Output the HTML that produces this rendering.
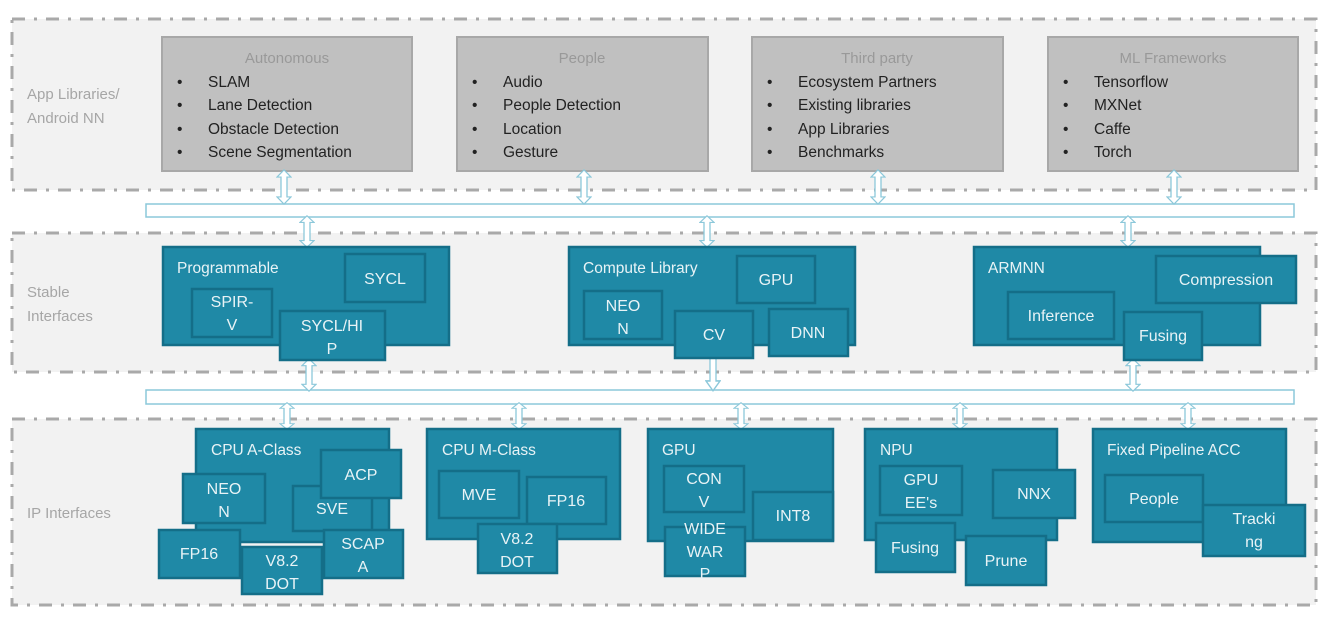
<!DOCTYPE html>
<html><head><meta charset="utf-8"><style>
html,body{margin:0;padding:0;background:#fff;}
svg text{font-family:"Liberation Sans",sans-serif;}
</style></head><body>
<svg width="1334" height="628" xmlns="http://www.w3.org/2000/svg">
<defs>
<symbol id="arr" viewBox="0 0 16 40" preserveAspectRatio="none">
<path d="M8 1 L15 9 L11 9 L11 31 L15 31 L8 39 L1 31 L5 31 L5 9 L1 9 Z" fill="#fff" stroke="#8cc8da" stroke-width="1.3"/>
</symbol>
</defs>
<g fill="#f2f2f2" stroke="#a9a9a9" stroke-width="3" stroke-dasharray="13 9 3 9">
<rect x="12" y="19" width="1304" height="171"/>
<rect x="12" y="233" width="1304" height="139"/>
<rect x="12" y="419" width="1304" height="186"/>
</g>
<g fill="#a6a6a6" font-size="15">
<text x="27" y="99">App Libraries/</text>
<text x="27" y="123">Android NN</text>
<text x="27" y="297">Stable</text>
<text x="27" y="321">Interfaces</text>
<text x="27" y="518">IP Interfaces</text>
</g>
<g fill="#c0c0c0" stroke="#a8a8a8" stroke-width="2">
<rect x="162" y="37" width="250" height="134"/>
<rect x="457" y="37" width="251" height="134"/>
<rect x="752" y="37" width="251" height="134"/>
<rect x="1048" y="37" width="250" height="134"/>
</g>
<g font-size="15" fill="#999" text-anchor="middle">
<text x="287" y="63">Autonomous</text><text x="582" y="63">People</text><text x="877" y="63">Third party</text><text x="1173" y="63">ML Frameworks</text>
</g>
<g font-size="15.5" fill="#222">
<text x="177" y="87">•</text><text x="208" y="87">SLAM</text>
<text x="177" y="110">•</text><text x="208" y="110">Lane Detection</text>
<text x="177" y="134">•</text><text x="208" y="134">Obstacle Detection</text>
<text x="177" y="157">•</text><text x="208" y="157">Scene Segmentation</text>
<text x="472" y="87">•</text><text x="503" y="87">Audio</text>
<text x="472" y="110">•</text><text x="503" y="110">People Detection</text>
<text x="472" y="134">•</text><text x="503" y="134">Location</text>
<text x="472" y="157">•</text><text x="503" y="157">Gesture</text>
<text x="767" y="87">•</text><text x="798" y="87">Ecosystem Partners</text>
<text x="767" y="110">•</text><text x="798" y="110">Existing libraries</text>
<text x="767" y="134">•</text><text x="798" y="134">App Libraries</text>
<text x="767" y="157">•</text><text x="798" y="157">Benchmarks</text>
<text x="1063" y="87">•</text><text x="1094" y="87">Tensorflow</text>
<text x="1063" y="110">•</text><text x="1094" y="110">MXNet</text>
<text x="1063" y="134">•</text><text x="1094" y="134">Caffe</text>
<text x="1063" y="157">•</text><text x="1094" y="157">Torch</text>
</g>
<g fill="#fff" stroke="#8cc8da" stroke-width="1.5">
<rect x="146" y="204" width="1148" height="13"/>
<rect x="146" y="390" width="1148" height="14"/>
</g>
<use href="#arr" x="276" y="169" width="16" height="36"/>
<use href="#arr" x="576" y="169" width="16" height="36"/>
<use href="#arr" x="870" y="169" width="16" height="36"/>
<use href="#arr" x="1166" y="169" width="16" height="36"/>
<use href="#arr" x="299" y="215" width="16" height="33"/>
<use href="#arr" x="699" y="215" width="16" height="33"/>
<use href="#arr" x="1120" y="215" width="16" height="33"/>
<use href="#arr" x="301" y="358" width="16" height="34"/>
<use href="#arr" x="705" y="343" width="16" height="49"/>
<use href="#arr" x="1125" y="358" width="16" height="34"/>
<use href="#arr" x="279" y="402" width="16" height="28"/>
<use href="#arr" x="511" y="402" width="16" height="28"/>
<use href="#arr" x="733" y="402" width="16" height="28"/>
<use href="#arr" x="952" y="402" width="16" height="28"/>
<use href="#arr" x="1180" y="402" width="16" height="28"/>
<g fill="#1f89a6" stroke="#146e88" stroke-width="2.5">
<rect x="163" y="247" width="286" height="98"/>
<rect x="345" y="254" width="80" height="48"/>
<rect x="192" y="289" width="80" height="48"/>
<rect x="280" y="311" width="105" height="49"/>
<rect x="569" y="247" width="286" height="98"/>
<rect x="737" y="256" width="78" height="47"/>
<rect x="584" y="291" width="78" height="48"/>
<rect x="675" y="311" width="78" height="47"/>
<rect x="769" y="309" width="79" height="47"/>
<rect x="974" y="247" width="286" height="98"/>
<rect x="1156" y="256" width="140" height="47"/>
<rect x="1008" y="292" width="106" height="47"/>
<rect x="1124" y="312" width="78" height="48"/>
<rect x="196" y="429" width="193" height="113"/>
<rect x="183" y="474" width="82" height="49"/>
<rect x="293" y="486" width="79" height="45"/>
<rect x="321" y="450" width="80" height="48"/>
<rect x="159" y="530" width="81" height="48"/>
<rect x="242" y="547" width="80" height="47"/>
<rect x="324" y="530" width="79" height="48"/>
<rect x="427" y="429" width="193" height="110"/>
<rect x="439" y="471" width="80" height="47"/>
<rect x="527" y="477" width="79" height="47"/>
<rect x="478" y="524" width="79" height="49"/>
<rect x="648" y="429" width="185" height="112"/>
<rect x="664" y="466" width="80" height="46"/>
<rect x="753" y="492" width="80" height="48"/>
<rect x="665" y="527" width="80" height="49"/>
<rect x="865" y="429" width="192" height="111"/>
<rect x="880" y="466" width="82" height="49"/>
<rect x="993" y="470" width="82" height="48"/>
<rect x="876" y="523" width="79" height="49"/>
<rect x="966" y="536" width="80" height="49"/>
<rect x="1093" y="429" width="193" height="113"/>
<rect x="1105" y="475" width="98" height="47"/>
<rect x="1203" y="505" width="102" height="51"/>
</g>
<g fill="#e8f3f6" font-size="15.5">
<text x="177" y="273">Programmable</text>
<text x="583" y="273">Compute Library</text>
<text x="988" y="273">ARMNN</text>
<text x="211" y="455">CPU A-Class</text>
<text x="442" y="455">CPU M-Class</text>
<text x="662" y="455">GPU</text>
<text x="880" y="455">NPU</text>
<text x="1107" y="455">Fixed Pipeline ACC</text>
</g>
<g fill="#e8f3f6" font-size="16" text-anchor="middle">
<text x="385" y="284">SYCL</text>
<text x="232" y="307">SPIR-</text><text x="232" y="330">V</text>
<text x="332" y="331">SYCL/HI</text><text x="332" y="354">P</text>
<text x="776" y="285">GPU</text>
<text x="623" y="311">NEO</text><text x="623" y="334">N</text>
<text x="714" y="340">CV</text>
<text x="808" y="338">DNN</text>
<text x="1226" y="285">Compression</text>
<text x="1061" y="321">Inference</text>
<text x="1163" y="341">Fusing</text>
<text x="224" y="494">NEO</text><text x="224" y="517">N</text>
<text x="361" y="480">ACP</text>
<text x="332" y="514">SVE</text>
<text x="199" y="559">FP16</text>
<text x="282" y="566">V8.2</text><text x="282" y="589">DOT</text>
<text x="363" y="549">SCAP</text><text x="363" y="572">A</text>
<text x="479" y="500">MVE</text>
<text x="566" y="506">FP16</text>
<text x="517" y="544">V8.2</text><text x="517" y="567">DOT</text>
<text x="704" y="484">CON</text><text x="704" y="507">V</text>
<text x="793" y="521">INT8</text>
<text x="705" y="534">WIDE</text><text x="705" y="557">WAR</text><text x="705" y="579">P</text>
<text x="921" y="485">GPU</text><text x="921" y="508">EE's</text>
<text x="1034" y="499">NNX</text>
<text x="915" y="553">Fusing</text>
<text x="1006" y="566">Prune</text>
<text x="1154" y="504">People</text>
<text x="1254" y="524">Tracki</text><text x="1254" y="547">ng</text>
</g>
</svg>
</body></html>
